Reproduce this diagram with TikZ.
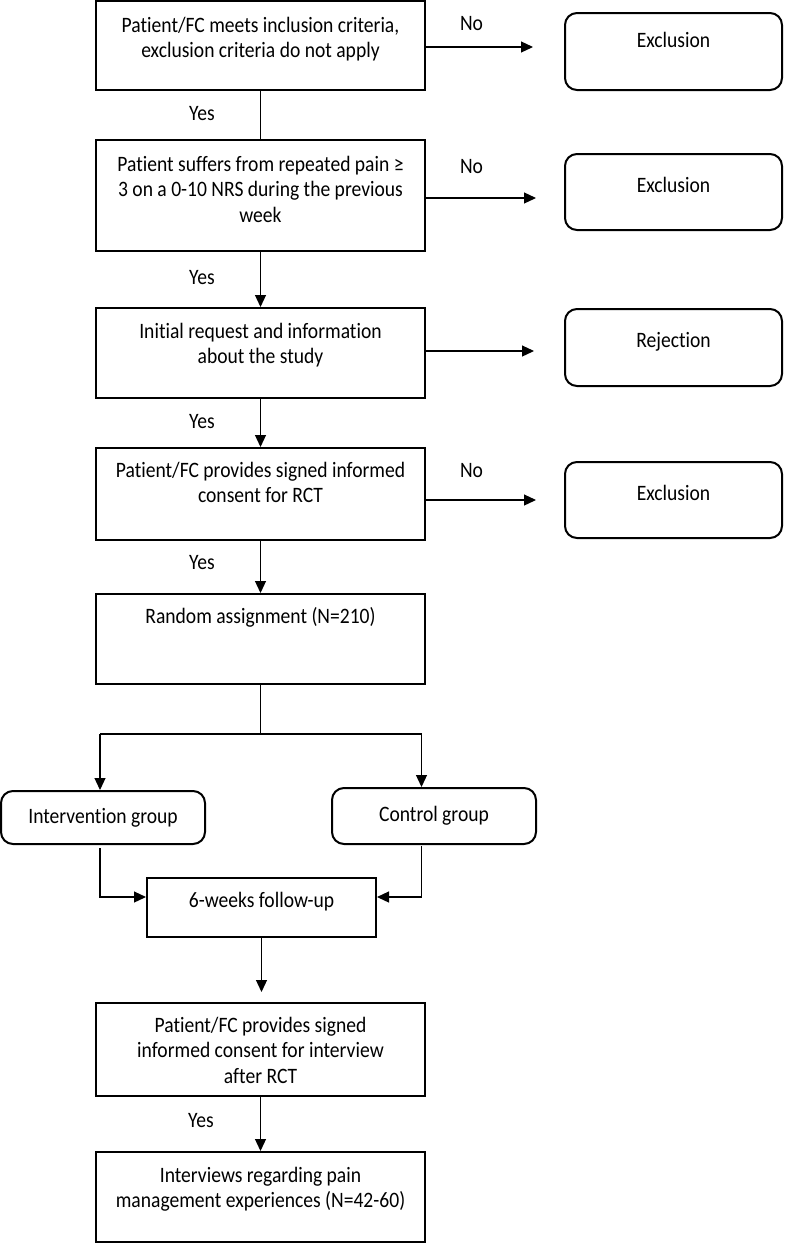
\documentclass[tikz,border=0pt]{standalone}
\usepackage{fontspec}
\setmainfont{Carlito}[FakeStretch=0.89, Ligatures=NoCommon]
\usetikzlibrary{arrows.meta}
\newcommand\btext[4]{\parbox[c][#1][t]{#2}{\centering\rule{0pt}{#3}#4}}
\begin{document}
\begin{tikzpicture}[x=1pt,y=-1pt,
  font=\fontsize{22}{25.8}\selectfont,
  mainbox/.style={draw, line width=2pt, inner sep=0pt},
  roundbox/.style={draw, line width=2pt, inner sep=0pt, rounded corners=12pt},
  conn/.style={line width=1.2pt},
  arr/.style={line width=1.2pt, -{Triangle[length=12pt,width=11pt]}},
  lbl/.style={inner sep=0pt}]
\useasboundingbox (0,0) rectangle (785,1243);
% main column
\node[mainbox] (b1) at (260.5,45.5) {\btext{89pt}{329pt}{31pt}{Patient/FC meets inclusion criteria,\\exclusion criteria do not apply}};
\node[mainbox] (b2) at (260.5,195.5) {\btext{111pt}{329pt}{31pt}{Patient suffers from repeated pain ≥\\3 on a 0-10 NRS during the previous\\week}};
\node[mainbox] (b3) at (260.5,353) {\btext{90pt}{329pt}{30pt}{Initial request and information\\about the study}};
\node[mainbox] (b4) at (260.5,494) {\btext{92pt}{329pt}{29pt}{Patient/FC provides signed informed\\consent for RCT}};
\node[mainbox] (b5) at (260.5,639) {\btext{90pt}{329pt}{29pt}{Random assignment (N=210)}};
\node[roundbox] (ig) at (103,817.5) {\btext{53pt}{204pt}{32pt}{Intervention group}};
\node[roundbox] (cg) at (434,816) {\btext{56pt}{204pt}{33pt}{Control group}};
\node[mainbox] (b6) at (261.5,907.5) {\btext{59pt}{229pt}{29pt}{6-weeks follow-up}};
\node[mainbox] (b7) at (260.5,1049.5) {\btext{93pt}{329pt}{29pt}{Patient/FC provides signed\\informed consent for interview\\after RCT}};
\node[mainbox] (b8) at (260.5,1197) {\btext{90pt}{329pt}{30pt}{Interviews regarding pain\\management experiences (N=42-60)}};
% right column
\node[roundbox] (e1) at (673.5,51.5) {\btext{77pt}{217pt}{34pt}{Exclusion}};
\node[roundbox] (e2) at (673.5,192) {\btext{76pt}{217pt}{38pt}{Exclusion}};
\node[roundbox] (rj) at (673.5,347.5) {\btext{77pt}{217pt}{38pt}{Rejection}};
\node[roundbox] (e3) at (673.5,500) {\btext{76pt}{217pt}{38pt}{Exclusion}};
% labels
\node[lbl] (no1) at (471.5,24) {No};
\node[lbl] (no2) at (471.5,167) {No};
\node[lbl] (no4) at (471.5,471) {No};
\node[lbl] (y1) at (202,114) {Yes};
\node[lbl] (y2) at (202,278) {Yes};
\node[lbl] (y3) at (202,422) {Yes};
\node[lbl] (y4) at (202,563) {Yes};
\node[lbl] (y7) at (201,1121) {Yes};
% free ends
\coordinate (n1) at (533,47);
\coordinate (n2) at (536,198);
\coordinate (n3) at (534,351);
\coordinate (n4) at (536,500);
\coordinate (sp) at (260.5,734);
\coordinate (spl) at (100,734);
\coordinate (spr) at (421.5,734);
\coordinate (il) at (100,848);
\coordinate (cl) at (421.5,846);
\coordinate (fy) at (0,897);
\coordinate (a7) at (261.5,992);
% connectors
\draw[conn] (b1.south) -- (b2.north);
\draw[arr] (b2.south) -- (b3.north);
\draw[arr] (b3.south) -- (b4.north);
\draw[arr] (b4.south) -- (b5.north);
\draw[arr] (b1.east |- n1) -- (n1);
\draw[arr] (b2.east |- n2) -- (n2);
\draw[arr] (b3.east |- n3) -- (n3);
\draw[arr] (b4.east |- n4) -- (n4);
\draw[conn] (b5.south) -- (sp);
\draw[conn] (spl) -- (spr);
\draw[arr] (spl) -- (spl |- ig.north);
\draw[arr] (spr) -- (spr |- cg.north);
\draw[arr] (il) |- (b6.west |- fy);
\draw[arr] (cl) |- (b6.east |- fy);
\draw[arr] (b6.south) -- (a7);
\draw[arr] (b7.south) -- (b8.north);
\end{tikzpicture}
\end{document}
